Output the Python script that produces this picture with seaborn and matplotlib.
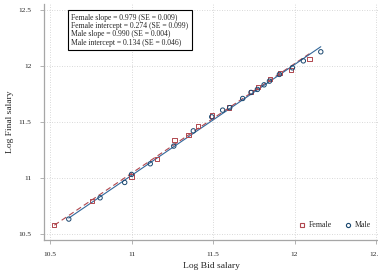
#!/usr/bin/env python3
import matplotlib
matplotlib.use("Agg")
import matplotlib.pyplot as plt
from matplotlib.lines import Line2D
import seaborn as sns
import pandas as pd
import numpy as np

# binned means
female_bid = [10.526, 10.758, 10.999, 11.155, 11.263, 11.349, 11.406, 11.494,
              11.598, 11.733, 11.774, 11.850, 11.911, 11.977, 12.091]
female_final = [10.580, 10.797, 11.015, 11.172, 11.339, 11.387, 11.464, 11.560,
                11.631, 11.771, 11.815, 11.884, 11.940, 11.967, 12.065]
male_bid = [10.615, 10.807, 10.958, 11.000, 11.115, 11.259, 11.379, 11.492,
            11.559, 11.602, 11.682, 11.733, 11.772, 11.813, 11.846, 11.907,
            11.987, 12.054, 12.161]
male_final = [10.634, 10.824, 10.961, 11.033, 11.128, 11.286, 11.422, 11.547,
              11.607, 11.629, 11.711, 11.765, 11.792, 11.833, 11.866, 11.926,
              11.985, 12.047, 12.128]

female_slope, female_int = 0.979, 0.274
male_slope, male_int = 0.990, 0.134
box_lines = ["Female slope = 0.979 (SE = 0.009)",
             "Female intercept = 0.274 (SE = 0.099)",
             "Male slope = 0.990 (SE = 0.004)",
             "Male intercept = 0.134 (SE = 0.046)"]

x_ticks = [10.5, 11, 11.5, 12, 12.5]
y_ticks = [10.5, 11, 11.5, 12, 12.5]
tick_labels = ["10.5", "11", "11.5", "12", "12.5"]

MAROON = "#b0474e"
NAVY = "#1a476f"
LINE_BLUE = "#33679a"
GREY = "#a6a6a6"

sns.set_style("white")
plt.rcParams["font.family"] = ["Liberation Serif", "DejaVu Serif"]

female = pd.DataFrame({"bid": female_bid, "final": female_final})
male = pd.DataFrame({"bid": male_bid, "final": male_final})

fig = plt.figure(figsize=(3.78, 2.73), dpi=100)
ax = fig.add_axes([44 / 378, 33 / 273, 1 - 44 / 378, (240 - 4) / 273])

# fitted lines over each group's range
fx = np.array([min(female_bid), max(female_bid)])
mx = np.array([min(male_bid), max(male_bid)])
ax.plot(fx, female_int + female_slope * fx, color=MAROON, lw=0.8, ls=(0, (5, 3)), zorder=2)
ax.plot(mx, male_int + male_slope * mx, color=LINE_BLUE, lw=0.8, zorder=2)

sns.scatterplot(data=female, x="bid", y="final", marker="s", s=10,
                facecolor="none", edgecolor=MAROON, linewidth=0.7, ax=ax, zorder=3)
sns.scatterplot(data=male, x="bid", y="final", marker="o", s=10,
                facecolor="none", edgecolor=NAVY, linewidth=0.7, ax=ax, zorder=4)

ax.set_xlim(10.463, 12.512)
ax.set_ylim(10.447, 12.555)
ax.set_xticks(x_ticks)
ax.set_xticklabels(tick_labels)
ax.set_yticks(y_ticks)
ax.set_yticklabels(tick_labels)
ax.tick_params(axis="both", labelsize=5.3, length=3, width=0.6, color=GREY, pad=6, direction="out")
ax.tick_params(bottom=True, left=True)
ax.grid(True, ls=(0, (1, 2)), color="#cccccc", lw=0.6)
for side in ["top", "right"]:
	ax.spines[side].set_visible(False)
for side in ["left", "bottom"]:
	ax.spines[side].set_color(GREY)
	ax.spines[side].set_linewidth(0.9)
ax.set_xlabel("Log Bid salary", fontsize=6.8, labelpad=3)
ax.set_ylabel("Log Final salary", fontsize=6.8, labelpad=3)

ax.text(10.63, 12.468, "\n".join(box_lines), fontsize=5.5, va="top", ha="left",
        linespacing=1.05,
        bbox=dict(boxstyle="square,pad=0.45", facecolor="white", edgecolor="black", lw=0.8),
        zorder=5)

handles = [Line2D([], [], marker="s", ls="none", ms=3, mfc="none", mec=MAROON, mew=0.8),
           Line2D([], [], marker="o", ls="none", ms=3, mfc="none", mec=NAVY, mew=0.8)]
ax.legend(handles, ["Female", "Male"], loc="lower right", ncol=2, frameon=False,
          fontsize=5.7, handletextpad=0.3, columnspacing=1.6, handlelength=1.0,
          bbox_to_anchor=(1.0, 0.015))

fig.savefig("out.png", dpi=100)
